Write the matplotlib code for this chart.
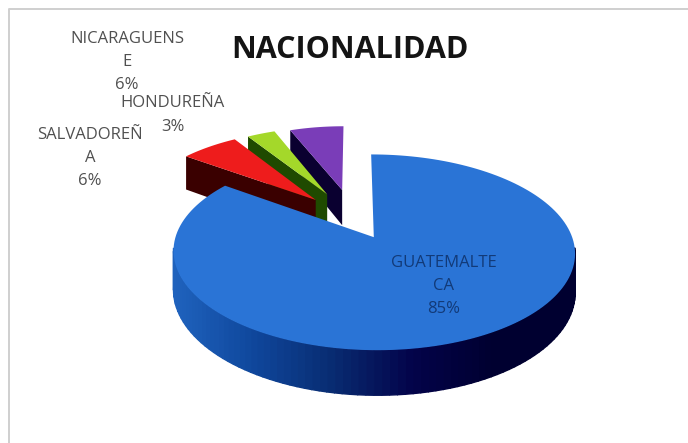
import numpy as np
import matplotlib
matplotlib.use("Agg")
import matplotlib.pyplot as plt
from matplotlib.colors import LinearSegmentedColormap

# Slices, clockwise from 12 o'clock
LABELS = ["GUATEMALTE\nCA\n85%", "SALVADOREÑ\nA\n6%", "HONDUREÑA\n3%", "NICARAGUENS\nE\n6%"]
VALUES = [85, 6, 3, 6]
EXPLODE = [0.22, 0.30, 0.32, 0.345]
RADIUS = [1.0, 0.95, 0.92, 0.88]
TOPS = ["#2a74d6", "#ee1c1c", "#a4d82a", "#7a3db8"]
SIDES = ["#02023a", "#3a0000", "#1f4a00", "#0a0030"]
LABEL_XY = [(444, 286), (90, 158), (173, 115), (127, 62)]
LABEL_COL = ["#123a78", "#505050", "#505050", "#505050"]

# projection of the pie plane on to the page, in pixels
CX, CY, RX, RY, PERSP, DEPTH = 354, 219, 192.5, 90, 0.15, 37


def project(u, v, drop=0.0):
    s = 1.0 / (1.0 + PERSP * v)
    return CX + RX * u * s, CY - RY * v * s + drop * s


def slice_outline(a0, a1, off, r):
    t = np.linspace(a0, a1, 160)
    return r * np.sin(t) + off[0], r * np.cos(t) + off[1]


fig = plt.figure(figsize=(6.88, 4.43), dpi=100)
ax = fig.add_axes([0, 0, 1, 1])
ax.set_xlim(0, 688)
ax.set_ylim(443, 0)
ax.axis("off")

# chart frame, open on the right
ax.plot([9, 9, 688], [443, 9, 9], color="#cfcfcf", lw=1.4)

edges = np.cumsum([0] + VALUES) / sum(VALUES) * 2 * np.pi
wall_cmap = LinearSegmentedColormap.from_list(
    "wall", ["#1f62bd", "#0f479c", "#082c72", "#03034a", "#000030", "#000030"])

# back to front: purple, green, red, then the big slice
for i in [3, 2, 1, 0]:
    a0, a1 = edges[i], edges[i + 1]
    mid = (a0 + a1) / 2
    off = (EXPLODE[i] * np.sin(mid), EXPLODE[i] * np.cos(mid))
    u, v = slice_outline(a0, a1, off, RADIUS[i])

    if i == 0:
        # outer wall, shaded along the rim (only the front half shows)
        for k in range(len(u) - 1):
            if v[k] > off[1] - 0.12 and v[k + 1] > off[1] - 0.12:
                continue
            x0, y0 = project(u[k], v[k])
            x1, y1 = project(u[k + 1], v[k + 1])
            x2, y2 = project(u[k + 1], v[k + 1], DEPTH)
            x3, y3 = project(u[k], v[k], DEPTH)
            shade = np.clip((x0 - 175) / 400, 0, 1)
            ax.fill([x0, x1, x2, x3], [y0, y1, y2, y3],
                    color=wall_cmap(shade), lw=1.0, zorder=2)
    else:
        # radial cut face turned to the viewer
        ox, oy = project(u[0], v[0])
        ox2, oy2 = project(u[0], v[0], DEPTH)
        px, py = project(off[0], off[1])
        px2, py2 = project(off[0], off[1], DEPTH)
        ax.fill([ox, px, px2, ox2], [oy, py, py2, oy2],
                color=SIDES[i], lw=0, zorder=1 + (3 - i) * 0.1)

    xs, ys = project(np.r_[off[0], u], np.r_[off[1], v])
    ax.fill(xs, ys, color=TOPS[i], lw=0, zorder=3 if i == 0 else 1.05 + (3 - i) * 0.1)

for txt, (x, y), col in zip(LABELS, LABEL_XY, LABEL_COL):
    ax.text(x, y, txt, ha="center", va="center", fontsize=12, color=col,
            family="Open Sans", linespacing=1.62, zorder=5)

ax.text(350, 50, "NACIONALIDAD", ha="center", va="center", fontsize=22,
        fontweight="bold", family="Open Sans", color="#141414")

fig.savefig("out.png", dpi=100)
